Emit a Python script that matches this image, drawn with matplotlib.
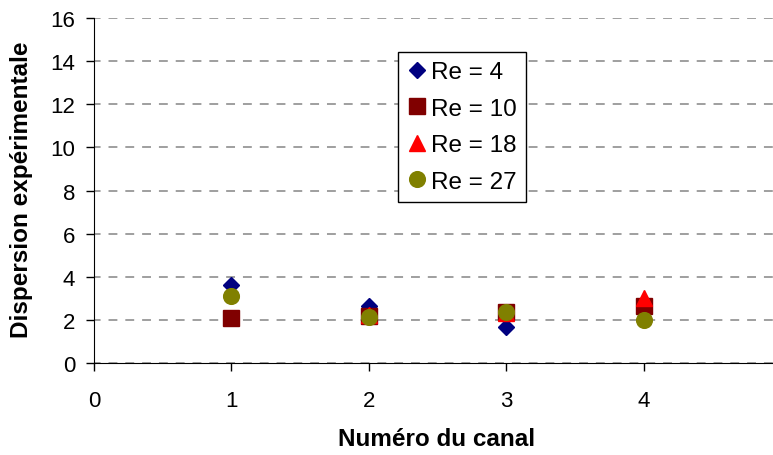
import numpy as np
import matplotlib
matplotlib.use("Agg")
import matplotlib.pyplot as plt

# ==============================
# Data
# ==============================
canal = [1, 2, 3, 4]
re_4 = [3.62, 2.62, 1.68, 2.64]
re_10 = [2.08, 2.16, 2.36, 2.64]
re_18 = [np.nan, 2.2, 2.3, 3.0]
re_27 = [3.12, 2.14, 2.34, 2.0]

plt.rcParams["font.family"] = ["Liberation Sans", "DejaVu Sans"]

fig = plt.figure(figsize=(7.73, 4.56), dpi=100)
ax = fig.add_axes([0.1216, 0.202, 0.8784, 0.756])

# marker sizes in points (~16 px at 100 dpi); 'D' is drawn sqrt(2) larger
ms = 11.3
ax.plot(canal, re_4, ls="none", marker="D", ms=ms / 1.414, color="#000080", label="Re = 4", zorder=3)
ax.plot(canal, re_10, ls="none", marker="s", ms=ms, color="#800000", label="Re = 10", zorder=3)
ax.plot(canal, re_18, ls="none", marker="^", ms=ms, color="#ff0000", label="Re = 18", zorder=3)
ax.plot(canal, re_27, ls="none", marker="o", ms=ms, color="#808000", label="Re = 27", zorder=3)

ax.set_xlim(0, 4.94)
ax.set_ylim(0, 16)
ax.set_xticks([0, 1, 2, 3, 4])
ax.set_yticks(range(0, 17, 2))
ax.tick_params(axis="both", labelsize=16, direction="out", length=5.5, width=1)
ax.tick_params(axis="x", pad=14)
ax.tick_params(axis="y", pad=8)

ax.yaxis.grid(True, linestyle=(1.5, (5.8, 5.2)), color="#858585", linewidth=1.1)
ax.set_axisbelow(True)
ax.spines["top"].set_visible(False)
ax.spines["right"].set_visible(False)

# axis titles placed like the original
fig.text(437 / 773, 1 - 440 / 456, "Numéro du canal", fontsize=17.5, fontweight="bold",
         ha="center", va="center")
fig.text(22 / 773, 1 - 190 / 456, "Dispersion expérimentale", fontsize=17.5, fontweight="bold",
         ha="center", va="center", rotation=90)

leg = ax.legend(loc="upper left", bbox_to_anchor=(0.448, 0.901), fontsize=17.5,
                frameon=True, fancybox=False, edgecolor="black", framealpha=1,
                handletextpad=0.2, handlelength=0.8, labelspacing=0.6,
                borderpad=0.36, borderaxespad=0)
leg.get_frame().set_linewidth(1)

fig.savefig("out.png", dpi=100)
